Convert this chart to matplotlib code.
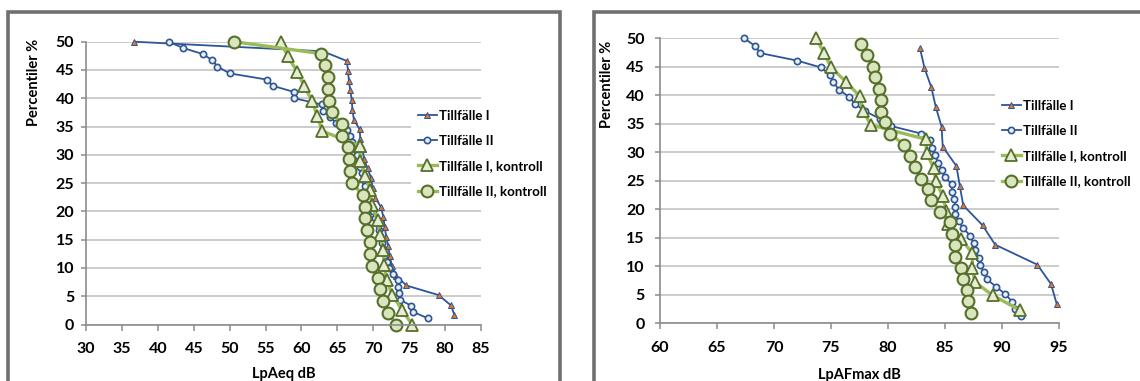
import matplotlib
matplotlib.use("Agg")
import matplotlib.pyplot as plt
from matplotlib.patches import Rectangle

plt.rcParams.update({"font.family": ["Lato", "DejaVu Sans"], "font.weight": "bold",
                     "axes.labelweight": "bold", "figure.facecolor": "white"})

W, H = 1140, 381
BLUE, ORANGE, LGREEN, OLIVE = "#2E5597", "#E8761E", "#9BBB59", "#55702A"
GRID, AXC = "#CCCCCC", "#8C8C8C"

# ---- left chart: LpAeq dB ----
aeq_I_x = [36.7, 63.0, 66.3, 66.5, 66.6, 66.8, 67.0, 67.1, 67.3, 68.1, 68.2, 68.5, 68.7,
           69.2, 69.7, 69.9, 70.3, 71.1, 71.4, 71.6, 71.8, 72.1, 72.3, 72.6, 73.2, 74.6,
           79.1, 80.8, 81.3]
aeq_I_y = [50.0, 48.3, 46.6, 44.8, 43.1, 41.4, 39.7, 37.9, 36.2, 34.5, 32.8, 31.0, 29.3,
           27.6, 25.9, 24.1, 22.4, 20.7, 19.0, 17.2, 15.5, 13.8, 12.1, 10.3, 8.6, 6.9,
           5.2, 3.4, 1.7]
aeq_II_x = [41.5, 43.5, 46.3, 47.6, 48.3, 50.0, 55.2, 56.0, 59.0, 59.0, 62.8, 63.0, 64.0,
            64.8, 66.3, 66.7, 67.0, 67.4, 67.7, 68.0, 68.2, 68.4, 68.7, 68.9, 69.0, 69.3,
            69.6, 69.9, 70.3, 70.6, 70.8, 71.0, 71.2, 71.4, 71.6, 71.9, 72.2, 72.7, 73.4,
            73.5, 73.6, 73.7, 75.3, 75.6, 77.6]
aeq_II_y = [50.0, 48.9, 47.8, 46.7, 45.6, 44.4, 43.3, 42.2, 41.1, 40.0, 38.9, 37.8, 36.7,
            35.6, 34.4, 33.3, 32.2, 31.1, 30.0, 28.9, 27.8, 26.7, 25.6, 24.4, 23.3, 22.2,
            21.1, 20.0, 18.9, 17.8, 16.7, 15.6, 14.4, 13.3, 12.2, 11.1, 10.0, 8.9, 7.8,
            6.7, 5.6, 4.4, 3.3, 2.2, 1.1]
aeq_kI_x = [57.1, 58.1, 59.4, 60.4, 61.5, 62.2, 62.9, 68.1, 68.2, 68.9, 69.6, 69.8, 70.6,
            71.0, 71.4, 71.5, 71.9, 72.6, 74.0, 75.4]
aeq_kI_y = [50.0, 47.4, 44.7, 42.1, 39.5, 36.8, 34.2, 31.6, 28.9, 26.3, 23.7, 21.1, 18.4,
            15.8, 13.2, 10.5, 7.9, 5.3, 2.6, 0.0]
aeq_kII_x = [50.6, 62.7, 63.3, 63.7, 63.7, 63.8, 64.2, 65.7, 65.6, 66.5, 66.6, 66.7, 67.1,
             68.5, 68.8, 68.9, 69.1, 69.5, 69.6, 69.8, 70.6, 70.9, 71.3, 72.1, 73.2]
aeq_kII_y = [50.0, 47.9, 45.8, 43.8, 41.7, 39.6, 37.5, 35.4, 33.3, 31.3, 29.2, 27.1, 25.0,
             22.9, 20.8, 18.8, 16.7, 14.6, 12.5, 10.4, 8.3, 6.3, 4.2, 2.1, 0.0]

# ---- right chart: LpAFmax dB ----
max_I_x = [82.8, 83.2, 83.8, 84.2, 84.7, 84.8, 86.0, 86.3, 86.6, 88.3, 89.4, 93.1, 94.3, 94.8]
max_I_y = [48.3, 44.8, 41.4, 37.9, 34.5, 31.0, 27.6, 24.1, 20.7, 17.2, 13.8, 10.3, 6.9, 3.4]
max_II_x = [67.4, 68.3, 68.8, 72.0, 74.1, 74.9, 75.2, 75.7, 76.6, 77.1, 78.0, 79.3, 80.3,
            82.9, 83.7, 83.9, 84.1, 84.4, 84.7, 85.0, 85.6, 85.6, 85.8, 85.9, 85.9, 86.2,
            86.6, 87.2, 87.5, 87.6, 88.0, 88.1, 88.4, 88.7, 89.5, 90.3, 90.9, 91.1, 91.7]
max_II_y = [50.0, 48.7, 47.4, 46.1, 44.9, 43.6, 42.3, 41.0, 39.7, 38.5, 37.2, 35.9, 34.6,
            33.3, 32.1, 30.8, 29.5, 28.2, 26.9, 25.6, 24.4, 23.1, 21.8, 20.5, 19.2, 17.9,
            16.7, 15.4, 14.1, 12.8, 11.5, 10.3, 9.0, 7.7, 6.4, 5.1, 3.8, 2.6, 1.3]
max_kI_x = [73.7, 74.4, 75.0, 76.3, 77.5, 77.8, 78.5, 83.3, 83.4, 84.0, 84.2, 84.8, 85.1,
            85.3, 86.4, 87.4, 87.4, 87.6, 89.2, 91.6]
max_kI_y = [50.0, 47.4, 44.9, 42.4, 39.9, 37.3, 34.8, 32.3, 29.8, 27.3, 24.9, 22.3, 19.8,
            17.4, 14.8, 12.3, 9.8, 7.3, 4.9, 2.3]
max_kII_x = [77.6, 78.2, 78.7, 78.9, 79.2, 79.4, 79.4, 79.7, 80.2, 81.4, 81.9, 82.4, 82.9,
             83.5, 83.8, 84.6, 85.4, 85.6, 85.9, 85.9, 86.4, 86.6, 86.9, 87.0, 87.3]
max_kII_y = [49.0, 47.0, 45.0, 43.2, 41.1, 39.2, 37.1, 35.3, 33.3, 31.3, 29.4, 27.5, 25.4,
             23.6, 21.6, 19.6, 17.7, 15.6, 13.7, 11.7, 9.8, 7.8, 5.8, 3.9, 1.9]

labels = ["Tillfälle I", "Tillfälle II", "Tillfälle I, kontroll", "Tillfälle II, kontroll"]
styles = [
    dict(color=BLUE, lw=1.3, marker="^", ms=4.5, mfc=ORANGE, mec=BLUE, mew=0.7),
    dict(color=BLUE, lw=1.3, marker="o", ms=4.5, mfc="#EAF0F8", mec=BLUE, mew=1.2),
    dict(color=LGREEN, lw=2.4, marker="^", ms=8.5, mfc="#E6EDD3", mec=OLIVE, mew=1.3),
    dict(color=LGREEN, lw=2.4, marker="o", ms=8.5, mfc="#DAE5BE", mec=OLIVE, mew=1.5),
]


def fx(px):
    return px / W


def fy(py):
    return 1 - py / H


fig = plt.figure(figsize=(W / 100, H / 100), dpi=100)

# chart frames (cropped at the bottom like the source)
for x0, x1 in [(8, 560), (594, 1150)]:
    fig.add_artist(Rectangle((fx(x0), fy(400)), fx(x1 - x0), (400 - 12) / H,
                             transform=fig.transFigure, fill=False,
                             edgecolor="#707070", lw=2.6))

panels = [
    dict(rect=(86, 481, 41.7, 324.5), xlim=(30, 85), xlabel="LpAeq dB",
         series=[(aeq_I_x, aeq_I_y), (aeq_II_x, aeq_II_y), (aeq_kI_x, aeq_kI_y),
                 (aeq_kII_x, aeq_kII_y)],
         ylab=(41, 82), xlab_y=367, ypad=5, leg=(411, 103)),
    dict(rect=(660, 1059, 38.3, 323.4), xlim=(60, 95), xlabel="LpAFmax dB",
         series=[(max_I_x, max_I_y), (max_II_x, max_II_y), (max_kI_x, max_kI_y),
                 (max_kII_x, max_kII_y)],
         ylab=(614, 84), xlab_y=368, ypad=7.5, leg=(995, 93)),
]

for p in panels:
    l, r, t, b = p["rect"]
    ax = fig.add_axes([fx(l), fy(b), fx(r - l), (b - t) / H])
    for (xs, ys), st, lab in zip(p["series"], styles, labels):
        ax.plot(xs, ys, label=lab, clip_on=False, **st)
    ax.set_xlim(*p["xlim"])
    ax.set_ylim(0, 50)
    ax.set_xticks(range(p["xlim"][0], p["xlim"][1] + 1, 5))
    ax.set_yticks(range(0, 51, 5))
    ax.grid(axis="y", color=GRID, lw=1.4)
    ax.set_axisbelow(True)
    for s in ["top", "right"]:
        ax.spines[s].set_visible(False)
    for s in ["left", "bottom"]:
        ax.spines[s].set_color(AXC)
        ax.spines[s].set_linewidth(1.2)
    ax.tick_params(axis="x", length=4, width=1.1, color=AXC, pad=8.5, labelsize=11.5)
    ax.tick_params(axis="y", length=3.5, width=1.1, color=AXC, pad=p["ypad"], labelsize=11.5)
    for lbl in ax.get_xticklabels() + ax.get_yticklabels():
        lbl.set_fontweight("bold")
    ax.set_xlabel(p["xlabel"], fontsize=10.5, fontweight="bold")
    ax.xaxis.set_label_coords(0.5, (b - p["xlab_y"]) / (b - t))
    ax.set_ylabel("Percentiler %", fontsize=10.5, fontweight="bold")
    ax.yaxis.set_label_coords((p["ylab"][0] - l) / (r - l), (b - p["ylab"][1]) / (b - t))
    leg = ax.legend(loc="upper left", bbox_to_anchor=(fx(p["leg"][0]), fy(p["leg"][1])),
                    bbox_transform=fig.transFigure, fontsize=9.5, frameon=True,
                    framealpha=1, facecolor="white", edgecolor="none", fancybox=False,
                    handlelength=1.5, handletextpad=0.1, labelspacing=1.0,
                    borderpad=0.5, borderaxespad=0)
    for txt in leg.get_texts():
        txt.set_fontweight("bold")

fig.savefig("out.png", dpi=100)
